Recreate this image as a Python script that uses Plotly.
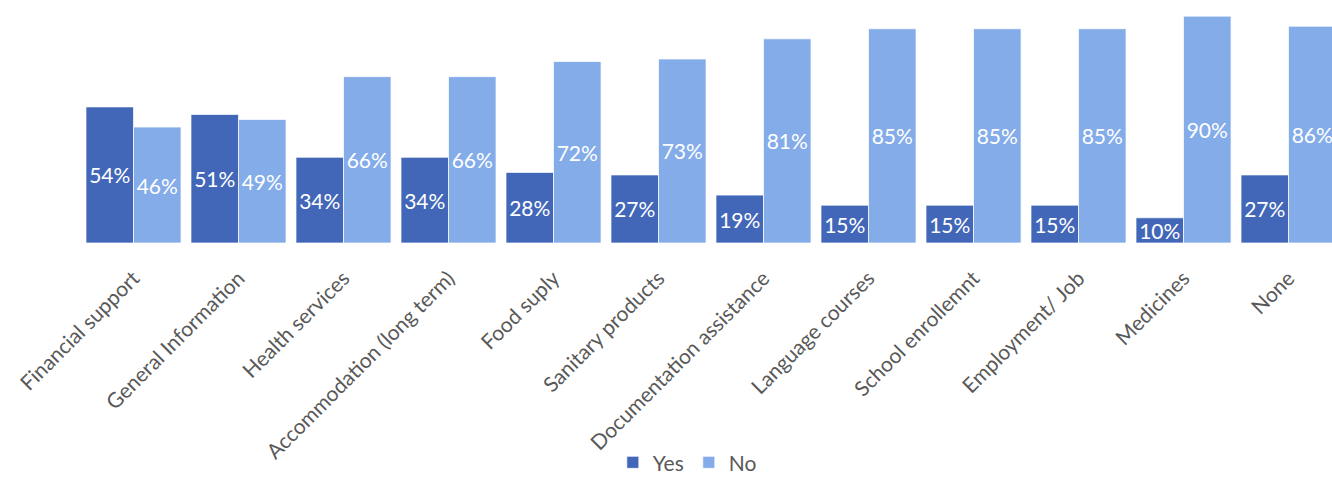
import plotly.graph_objects as go

categories = ["Financial support", "General Information", "Health services",
              "Accommodation (long term)", "Food suply", "Sanitary products",
              "Documentation assistance", "Language courses", "School enrollemnt",
              "Employment/ Job", "Medicines", "None"]
yes_vals = [54, 51, 34, 34, 28, 27, 19, 15, 15, 15, 10, 27]
no_vals = [46, 49, 66, 66, 72, 73, 81, 85, 85, 85, 90, 86]

YES_COLOR = "#4267B8"
NO_COLOR = "#84ACE9"
FONT = "Lato"

fig = go.Figure()
for name, vals, color in [("Yes", yes_vals, YES_COLOR), ("No", no_vals, NO_COLOR)]:
    fig.add_trace(go.Bar(
        name=name, x=categories, y=vals, marker_color=color,
        marker_line=dict(color="rgba(255,255,255,0.7)", width=1),
        text=[f"{v}%" for v in vals], textposition="inside",
        insidetextanchor="middle", constraintext="none",
        textfont=dict(family=FONT, size=21, color="white"),
        hoverinfo="skip",
    ))

fig.update_layout(
    width=1332, height=477,
    margin=dict(l=81, r=0, t=0, b=234, autoexpand=False),
    barmode="group", bargap=0.095, bargroupgap=0,
    plot_bgcolor="white", paper_bgcolor="white",
    font=dict(family=FONT, color="#595959"),
    legend=dict(orientation="h", xref="container", yref="container",
                x=0.516, xanchor="center", y=0.03, yanchor="middle",
                font=dict(family=FONT, size=21, color="#595959"),
                itemwidth=30, tracegroupgap=0),
    showlegend=True,
)
fig.update_xaxes(range=[-0.5, 11.414], tickangle=-45, showline=False, showgrid=False,
                 ticks="", ticklabelstandoff=18,
                 tickfont=dict(family=FONT, size=21, color="#595959"))
fig.update_yaxes(range=[0, 96.4], visible=False, showgrid=False)

fig.write_html("out.html")
